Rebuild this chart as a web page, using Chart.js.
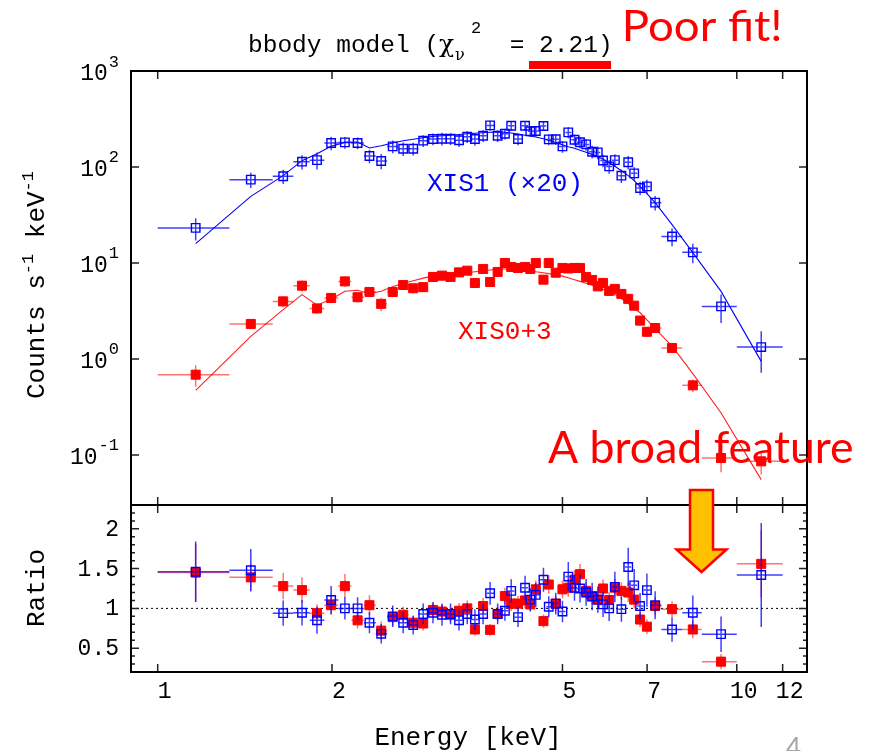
<!DOCTYPE html>
<html><head><meta charset="utf-8">
<script src="https://cdn.jsdelivr.net/npm/chart.js@4/dist/chart.umd.min.js"></script>
<style>
html,body{margin:0;padding:0;background:#fff;width:869px;height:751px;overflow:hidden;}
#wrap{position:relative;width:869px;height:751px;}
canvas{position:absolute;left:0;top:0;}
</style></head>
<body><div id="wrap">
<canvas id="top" width="869" height="751"></canvas>
<canvas id="bottom" width="869" height="751"></canvas>
</div>
<script>
// ---------------- data ----------------
const energyKeV = [1.163,1.448,1.647,1.775,1.884,1.993,2.105,2.214,2.321,2.432,2.546,2.654,2.762,2.874,2.988,3.097,3.204,3.314,3.424,3.530,3.647,3.750,3.864,3.977,4.078,4.190,4.309,4.400,4.497,4.636,4.735,4.868,5.000,5.117,5.245,5.361,5.493,5.626,5.754,5.875,6.020,6.158,6.320,6.494,6.650,6.808,6.995,7.228,7.730,8.396,9.394,11.02];
const binEdgesKeV = [1.0,1.33,1.58,1.715,1.83,1.94,2.05,2.16,2.27,2.38,2.49,2.6,2.71,2.82,2.93,3.04,3.15,3.26,3.37,3.48,3.59,3.7,3.81,3.92,4.03,4.13,4.25,4.36,4.45,4.57,4.69,4.8,4.93,5.06,5.18,5.3,5.43,5.56,5.69,5.81,5.95,6.09,6.24,6.41,6.57,6.73,6.9,7.1,7.41,8.05,8.7,10.0,12.0];

const xis1Counts = [23.2,73.8,80.2,113.6,117.8,177.8,180.4,177.8,130.2,115.5,163.9,155.1,155.1,188,195.7,197.1,197.1,190.2,206.8,195.7,211.8,271.2,211.8,222.1,269.2,195.7,269.2,235.9,237.1,267.4,193.9,194.8,163.9,229.3,192.5,181.3,171.9,144.3,141.9,116.9,101.4,117.8,81.2,112.2,85.8,60.4,62.8,42.5,18.9,12.9,3.53,1.33];
const xis1Model = [15.9,49.4,81.2,116.3,137.6,164.8,180.4,182,157.7,166.7,177.8,188,194.8,202,208.3,211.8,214.3,218.2,222.1,224.9,227.6,230.4,232.1,230.4,226,219.8,214.3,210.4,205.4,197.1,189.2,179.9,170.8,162.7,157,149.6,142.6,135.3,128,120.6,110.9,101.9,91.5,81.2,72,62.3,52.7,42.5,25.1,12.8,5.06,0.944];
const xis1RelErr = [0.26,0.18,0.17,0.17,0.20,0.16,0.14,0.14,0.16,0.18,0.15,0.16,0.15,0.14,0.14,0.15,0.14,0.15,0.14,0.15,0.14,0.12,0.14,0.13,0.12,0.14,0.12,0.13,0.13,0.11,0.13,0.13,0.14,0.13,0.13,0.14,0.14,0.15,0.15,0.15,0.16,0.15,0.16,0.16,0.16,0.16,0.17,0.17,0.21,0.23,0.33,0.46];
const xis1Ratio = [1.46,1.48,0.94,0.945,0.85,1.105,1.0,1.0,0.82,0.68,0.90,0.82,0.79,0.93,0.945,0.92,0.93,0.85,0.93,0.86,0.93,1.19,0.93,0.97,1.22,0.89,1.26,1.11,1.17,1.36,1.02,1.06,0.96,1.40,1.26,1.25,1.20,1.15,1.11,1.05,1.0,1.27,0.99,1.52,1.29,1.03,1.23,1.04,0.735,0.945,0.676,1.42];

const xis03Counts = [0.686,2.317,3.98,5.80,3.36,4.32,6.43,4.40,4.99,3.75,4.99,5.90,5.45,5.60,7.15,7.38,7.15,7.98,8.31,6.19,8.66,6.34,8.06,10.0,9.09,8.87,9.09,8.66,10.0,6.70,10.0,7.92,8.87,8.77,8.87,8.87,7.15,6.65,5.71,6.19,5.12,5.37,4.76,4.23,3.59,2.51,1.92,2.10,1.30,0.531,0.093,0.0858];
const xis03Model = [0.471,1.72,3.26,4.68,3.63,4.20,5.08,5.19,4.79,5.08,5.66,6.16,6.54,6.95,7.29,7.46,7.61,7.74,7.92,8.11,8.31,8.45,8.61,8.66,8.66,8.57,8.45,8.31,8.11,7.92,7.74,7.55,7.29,7.03,6.70,6.43,6.16,5.87,5.60,5.33,5.02,4.68,4.25,3.77,3.38,3.03,2.56,2.07,1.36,0.703,0.274,0.0553];
const xis03RelErr = [0.25,0.12,0.13,0.13,0.12,0.12,0.12,0.12,0.12,0.16,0.12,0.11,0.11,0.11,0.10,0.10,0.10,0.10,0.10,0.10,0.10,0.10,0.10,0.09,0.09,0.09,0.09,0.09,0.09,0.10,0.09,0.09,0.09,0.09,0.09,0.09,0.09,0.09,0.09,0.09,0.09,0.09,0.09,0.10,0.10,0.11,0.12,0.11,0.10,0.15,0.29,0.27];
const xis03Ratio = [1.45,1.39,1.28,1.23,0.94,1.04,1.28,0.85,1.04,0.72,0.89,0.92,0.82,0.81,0.98,0.96,0.92,0.97,1.0,0.735,1.03,0.73,0.93,1.155,1.06,1.06,1.10,1.05,1.24,0.84,1.30,1.06,1.24,1.26,1.36,1.43,1.22,1.155,1.11,1.25,1.105,1.26,1.22,1.20,1.11,0.86,0.77,1.03,0.99,0.735,0.33,1.56];

const xTickValues = [1,2,5,7,10,12];
const xTickLabels = ['1','2','5','7','10','12'];
const countTickExponents = [-1,0,1,2,3];
const ratioMajorTicks = [0.5,1,1.5,2];
const ratioTickLabels = ['0.5','1','1.5','2'];
const ratioMinorTicks = [0.3,0.4,0.6,0.7,0.8,0.9,1.1,1.2,1.3,1.4,1.6,1.7,1.8,1.9,2.1,2.2];

// ---------------- helpers ----------------
const MONO = '"Liberation Mono","DejaVu Sans Mono",monospace';
const SANS = 'Lato,"Open Sans",sans-serif';
const pts = (xs, ys) => xs.map((x, i) => ({x: x, y: ys[i]}));

const errorBarPlugin = {
  id: 'errorBars',
  beforeDatasetDraw(chart, args) {
    const ds = chart.data.datasets[args.index];
    if (!ds.relErr) return;
    const xs = chart.scales.x, ys = chart.scales.y, ctx = chart.ctx;
    ctx.save();
    ctx.strokeStyle = ds.errColor;
    ctx.lineWidth = 1.5;
    ctx.beginPath();
    ds.data.forEach((p, i) => {
      const yp = ys.getPixelForValue(p.y);
      ctx.moveTo(xs.getPixelForValue(binEdgesKeV[i]), yp);
      ctx.lineTo(xs.getPixelForValue(binEdgesKeV[i + 1]), yp);
      const xp = xs.getPixelForValue(p.x);
      ctx.moveTo(xp, ys.getPixelForValue(p.y * (1 - ds.relErr[i])));
      ctx.lineTo(xp, ys.getPixelForValue(p.y * (1 + ds.relErr[i])));
    });
    ctx.stroke();
    ctx.restore();
  }
};

function drawFrame(chart, yMajor, yMinor) {
  const ctx = chart.ctx, a = chart.chartArea, xs = chart.scales.x, ys = chart.scales.y;
  ctx.save();
  ctx.strokeStyle = '#222';
  ctx.lineWidth = 1.5;
  ctx.beginPath();
  xTickValues.forEach(v => {
    const px = xs.getPixelForValue(v);
    ctx.moveTo(px, a.top); ctx.lineTo(px, a.top + 8);
    ctx.moveTo(px, a.bottom); ctx.lineTo(px, a.bottom - 8);
  });
  yMajor.forEach(v => {
    const py = ys.getPixelForValue(v);
    ctx.moveTo(a.left, py); ctx.lineTo(a.left + 8, py);
    ctx.moveTo(a.right, py); ctx.lineTo(a.right - 8, py);
  });
  yMinor.forEach(v => {
    const py = ys.getPixelForValue(v);
    ctx.moveTo(a.left, py); ctx.lineTo(a.left + 4, py);
    ctx.moveTo(a.right, py); ctx.lineTo(a.right - 4, py);
  });
  ctx.stroke();
  ctx.strokeStyle = '#000';
  ctx.lineWidth = 2;
  ctx.strokeRect(a.left, a.top, a.right - a.left, a.bottom - a.top);
  ctx.restore();
}

function fitText(ctx, text, fam, color, left, baseline, inkWidth, capH) {
  ctx.save();
  ctx.font = '100px ' + fam;
  const capRatio = ctx.measureText('H').actualBoundingBoxAscent / 100;
  const size = capH / capRatio;
  ctx.font = size + 'px ' + fam;
  const m = ctx.measureText(text);
  const w = m.actualBoundingBoxLeft + m.actualBoundingBoxRight;
  const sx = inkWidth / w;
  ctx.translate(left, baseline);
  ctx.scale(sx, 1);
  ctx.fillStyle = color;
  ctx.textAlign = 'left';
  ctx.textBaseline = 'alphabetic';
  ctx.fillText(text, m.actualBoundingBoxLeft, 0);
  ctx.restore();
}

// ---------------- top panel: counts ----------------
const topFramePlugin = {
  id: 'topFrame',
  afterDraw(chart) {
    const exps = countTickExponents;
    drawFrame(chart, exps.map(e => Math.pow(10, e)), []);
    const ctx = chart.ctx, ys = chart.scales.y;
    ctx.save();
    ctx.fillStyle = '#000';
    ctx.textBaseline = 'middle';
    ctx.textAlign = 'right';
    exps.forEach(e => {
      const py = ys.getPixelForValue(Math.pow(10, e));
      const ex = String(e);
      ctx.font = '17px ' + MONO;
      const ew = ctx.measureText(ex).width;
      ctx.fillText(ex, 119, py - 9);
      ctx.font = '23px ' + MONO;
      ctx.fillText('10', 119 - ew - 1, py + 3);
    });
    ctx.restore();
  }
};

new Chart(document.getElementById('top'), {
  type: 'scatter',
  data: {
    datasets: [
      {label: 'XIS1 (×20)', data: pts(energyKeV, xis1Counts), relErr: xis1RelErr, errColor: 'rgba(0,0,255,0.75)',
       pointStyle: 'rect', pointRadius: 6, pointBorderWidth: 1.4, pointBorderColor: '#0000ff', pointBackgroundColor: 'rgba(0,0,0,0)'},
      {label: 'XIS0+3', data: pts(energyKeV, xis03Counts), relErr: xis03RelErr, errColor: 'rgba(255,0,0,0.55)',
       pointStyle: 'rect', pointRadius: 6.4, pointBorderWidth: 1, pointBorderColor: '#ff0000', pointBackgroundColor: '#ff0000'},
      {label: 'XIS1 model', data: pts(energyKeV, xis1Model), showLine: true, pointRadius: 0, borderColor: '#0000ff', borderWidth: 1.1},
      {label: 'XIS0+3 model', data: pts(energyKeV, xis03Model), showLine: true, pointRadius: 0, borderColor: '#ff2020', borderWidth: 1.1}
    ]
  },
  options: {
    responsive: false, animation: false, events: [],
    layout: {padding: {left: 131, right: 62, top: 71, bottom: 246}},
    plugins: {legend: {display: false}, tooltip: {enabled: false}, title: {display: false}},
    scales: {
      x: {type: 'logarithmic', min: 0.8993, max: 13.22, display: false},
      y: {type: 'logarithmic', min: 0.0301, max: 1000, display: false}
    }
  },
  plugins: [errorBarPlugin, topFramePlugin]
});

// ---------------- bottom panel: ratio + page text ----------------
const bottomFramePlugin = {
  id: 'bottomFrame',
  beforeDatasetsDraw(chart) {
    const ctx = chart.ctx, a = chart.chartArea, ys = chart.scales.y;
    const py = ys.getPixelForValue(1);
    ctx.save();
    ctx.strokeStyle = '#000';
    ctx.lineWidth = 1;
    ctx.setLineDash([2, 3]);
    ctx.beginPath();
    ctx.moveTo(a.left, py); ctx.lineTo(a.right, py);
    ctx.stroke();
    ctx.restore();
  },
  afterDraw(chart) {
    drawFrame(chart, ratioMajorTicks, ratioMinorTicks);
    const ctx = chart.ctx, xs = chart.scales.x, ys = chart.scales.y;
    ctx.save();
    ctx.fillStyle = '#000';
    ctx.font = '23px ' + MONO;
    ctx.textBaseline = 'middle';
    ctx.textAlign = 'right';
    ratioMajorTicks.forEach((v, i) => ctx.fillText(ratioTickLabels[i], 119, ys.getPixelForValue(v) + 1));
    ctx.textAlign = 'center';
    xTickValues.forEach((v, i) => ctx.fillText(xTickLabels[i], xs.getPixelForValue(v) + 7, 692));

    // axis titles
    ctx.font = '26px ' + MONO;
    ctx.textBaseline = 'alphabetic';
    ctx.textAlign = 'center';
    ctx.fillText('Energy [keV]', 468, 745);

    ctx.save();
    ctx.translate(44, 588);
    ctx.rotate(-Math.PI / 2);
    ctx.fillText('Ratio', 0, 0);
    ctx.restore();

    // Counts s^-1 keV^-1
    ctx.save();
    ctx.translate(44, 285);
    ctx.rotate(-Math.PI / 2);
    ctx.textAlign = 'left';
    const segs = [['Counts s', 26, 0], ['-1', 17, -11], [' keV', 26, 0], ['-1', 17, -11]];
    let total = 0;
    segs.forEach(s => { ctx.font = s[1] + 'px ' + MONO; total += ctx.measureText(s[0]).width; });
    let cx = -total / 2;
    segs.forEach(s => { ctx.font = s[1] + 'px ' + MONO; ctx.fillText(s[0], cx, s[2]); cx += ctx.measureText(s[0]).width; });
    ctx.restore();

    // title: bbody model (chi_nu^2 = 2.21)
    ctx.textAlign = 'left';
    ctx.font = '24.5px ' + MONO;
    ctx.fillText('bbody model (', 248, 52);
    ctx.font = '25px "DejaVu Serif","Liberation Serif",serif';
    ctx.fillText('χ', 439, 52);
    ctx.font = '16px "DejaVu Serif","Liberation Serif",serif';
    ctx.fillText('ν', 455, 60);
    ctx.font = '17px ' + MONO;
    ctx.fillText('2', 471, 33);
    ctx.font = '24.5px ' + MONO;
    ctx.fillText(' = 2.21)', 495, 52);
    ctx.fillStyle = '#ff0000';
    ctx.fillRect(529, 61, 82, 8);

    // series labels
    ctx.font = '26px ' + MONO;
    ctx.fillStyle = '#0000ff';
    ctx.fillText('XIS1 (×20)', 427, 191);
    ctx.fillStyle = '#ff0000';
    ctx.fillText('XIS0+3', 458, 339);

    // annotations
    fitText(ctx, 'Poor fit!', SANS, '#ff0000', 625, 40.5, 155, 31);
    fitText(ctx, 'A broad feature', SANS, '#ff0000', 548, 462.7, 304, 32.7);

    // arrow
    ctx.beginPath();
    ctx.moveTo(690, 490); ctx.lineTo(713, 490); ctx.lineTo(713, 549.5);
    ctx.lineTo(726.5, 549.5); ctx.lineTo(701.5, 572); ctx.lineTo(676.5, 549.5);
    ctx.lineTo(690, 549.5); ctx.closePath();
    ctx.fillStyle = '#ffc000';
    ctx.fill();
    ctx.strokeStyle = '#ff0000';
    ctx.lineWidth = 2.5;
    ctx.lineJoin = 'miter';
    ctx.stroke();

    // slide number (cut off at the bottom)
    ctx.fillStyle = '#a6a6a6';
    ctx.font = '26px ' + SANS;
    ctx.fillText('4', 786, 757);
    ctx.restore();
  }
};

new Chart(document.getElementById('bottom'), {
  type: 'scatter',
  data: {
    datasets: [
      {label: 'XIS1 ratio', data: pts(energyKeV, xis1Ratio), relErr: xis1RelErr, errColor: 'rgba(0,0,255,0.75)',
       pointStyle: 'rect', pointRadius: 6, pointBorderWidth: 1.4, pointBorderColor: '#0000ff', pointBackgroundColor: 'rgba(0,0,0,0)'},
      {label: 'XIS0+3 ratio', data: pts(energyKeV, xis03Ratio), relErr: xis03RelErr, errColor: 'rgba(255,0,0,0.55)',
       pointStyle: 'rect', pointRadius: 6.4, pointBorderWidth: 1, pointBorderColor: '#ff0000', pointBackgroundColor: '#ff0000'}
    ]
  },
  options: {
    responsive: false, animation: false, events: [],
    layout: {padding: {left: 131, right: 62, top: 505, bottom: 79}},
    plugins: {legend: {display: false}, tooltip: {enabled: false}, title: {display: false}},
    scales: {
      x: {type: 'logarithmic', min: 0.8993, max: 13.22, display: false},
      y: {type: 'linear', min: 0.2, max: 2.3, display: false}
    }
  },
  plugins: [errorBarPlugin, bottomFramePlugin]
});
</script>
</body></html>
